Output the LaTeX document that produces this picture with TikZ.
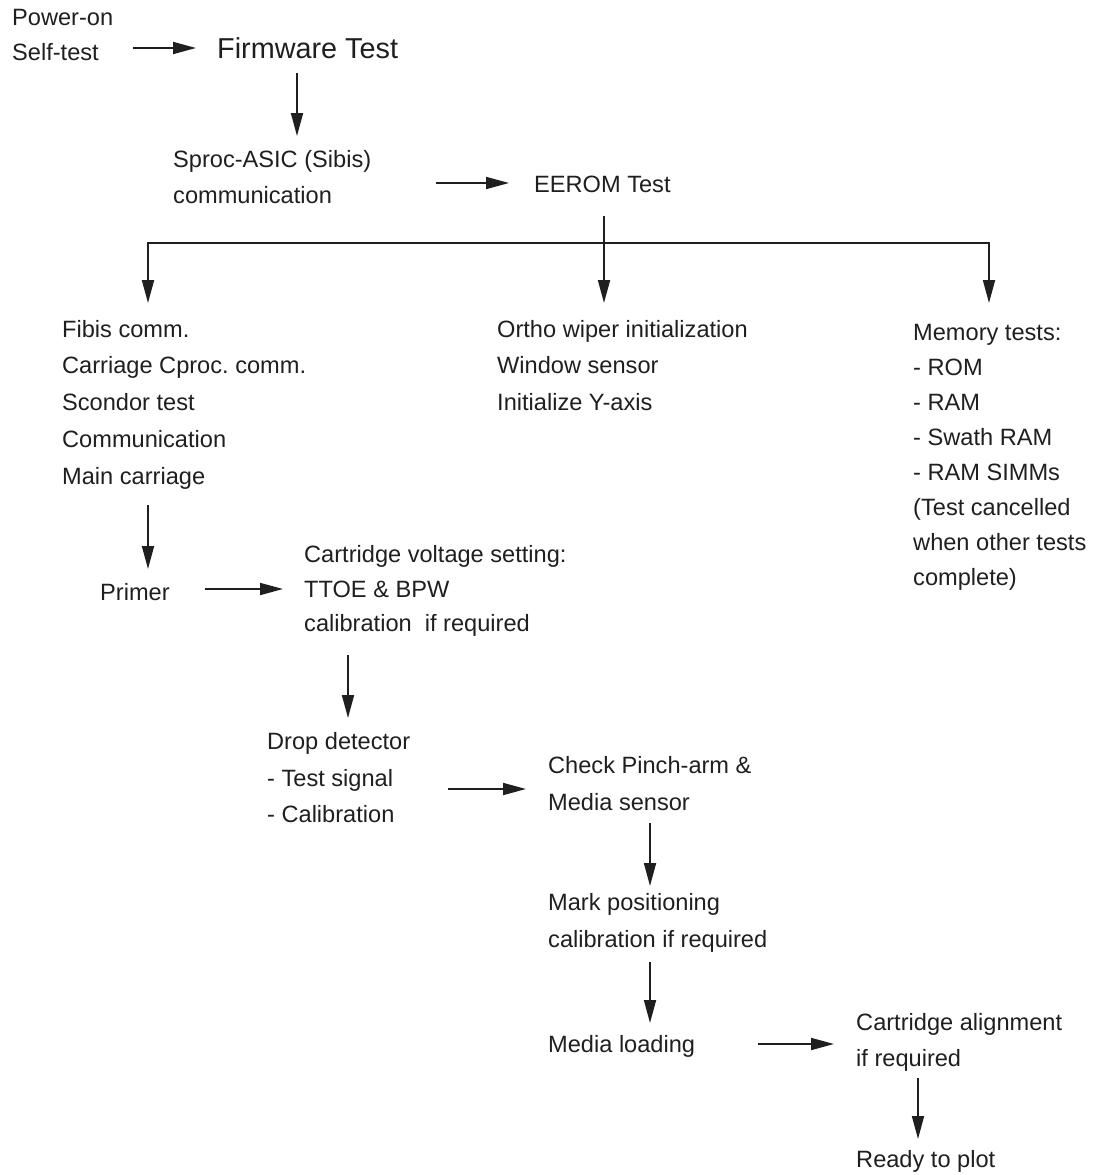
\documentclass[tikz,border=0pt]{standalone}
\usepackage{fontspec}
\setmainfont{Liberation Sans}
\usetikzlibrary{arrows.meta}
\definecolor{ink}{rgb}{0.12,0.12,0.12}
\frenchspacing
\begin{document}
\begin{tikzpicture}[x=1pt,y=-1pt,
  txt/.style={anchor=base west, inner sep=0pt, font=\fontsize{23.6}{28}\selectfont, text=ink},
  big/.style={txt, font=\fontsize{28.8}{34}\selectfont},
  arr/.style={-{Triangle[length=23pt,width=12pt]}, line width=1.8pt, draw=ink},
  ln/.style={line width=1.8pt, draw=ink}]
\useasboundingbox (0,0) rectangle (1094,1175);
% top
\node[txt] (po) at (12,25) {Power-on};
\node[txt] (st) at (12,60) {Self-test};
\node[big] (fw) at (217,58) {Firmware Test};
\node[txt] (spa) at (173,167) {Sproc-ASIC (Sibis)};
\node[txt] (spb) at (173,203) {communication};
\node[txt] (ee) at (534,192) {EEROM Test};
% left column
\node[txt] (la) at (62,337) {Fibis comm.};
\node[txt] (lb) at (62,373) {Carriage Cproc. comm.};
\node[txt] (lc) at (62,410) {Scondor test};
\node[txt] (ld) at (62,447) {Communication};
\node[txt] (le) at (62,484) {Main carriage};
% middle column
\node[txt] (ma) at (497,337) {Ortho wiper initialization};
\node[txt] (mb) at (497,373) {Window sensor};
\node[txt] (mc) at (497,410) {Initialize Y-axis};
% right column
\node[txt] (ra) at (913,340) {Memory tests:};
\node[txt] (rb) at (913,375) {- ROM};
\node[txt] (rc) at (913,410) {- RAM};
\node[txt] (rd) at (913,445) {- Swath RAM};
\node[txt] (re) at (913,480) {- RAM SIMMs};
\node[txt] (rf) at (913,515) {(Test cancelled};
\node[txt] (rg) at (913,550) {when other tests};
\node[txt] (rh) at (913,585) {complete)};
% primer row
\node[txt] (pr) at (100,600) {Primer};
\node[txt] (cva) at (304,562) {Cartridge voltage setting:};
\node[txt] (cvb) at (304,597) {TTOE \& BPW};
\node[txt] (cvc) at (304,631) {calibration\ \ if required};
% drop detector
\node[txt] (dda) at (267,749) {Drop detector};
\node[txt] (ddb) at (267,786) {- Test signal};
\node[txt] (ddc) at (267,822) {- Calibration};
\node[txt] (cpa) at (548,773) {Check Pinch-arm \&};
\node[txt] (cpb) at (548,810) {Media sensor};
\node[txt] (mpa) at (548,910) {Mark positioning};
\node[txt] (mpb) at (548,947) {calibration if required};
\node[txt] (ml) at (548,1052) {Media loading};
\node[txt] (caa) at (856,1030) {Cartridge alignment};
\node[txt] (cab) at (856,1066) {if required};
\node[txt] (rp) at (856,1167) {Ready to plot};
% arrow end points
\coordinate (a1s) at (133,48);  \coordinate (a1e) at (196,48);
\coordinate (a2s) at (297,73);  \coordinate (a2e) at (297,136);
\coordinate (a3s) at (436,183); \coordinate (a3e) at (509,183);
\coordinate (a4s) at (604,216); \coordinate (a4e) at (604,303);
\coordinate (bl) at (148,243);  \coordinate (br) at (989,243);
\coordinate (ble) at (148,303); \coordinate (bre) at (989,303);
\coordinate (a5s) at (148,505); \coordinate (a5e) at (148,569);
\coordinate (a6s) at (205,589); \coordinate (a6e) at (283,589);
\coordinate (a7s) at (348,655); \coordinate (a7e) at (348,718);
\coordinate (a8s) at (448,789); \coordinate (a8e) at (526,789);
\coordinate (a9s) at (650,823); \coordinate (a9e) at (650,886);
\coordinate (a10s) at (650,962); \coordinate (a10e) at (650,1023);
\coordinate (a11s) at (758,1044); \coordinate (a11e) at (834,1044);
\coordinate (a12s) at (918,1078); \coordinate (a12e) at (918,1139);
% connectors
\draw[arr] (a1s) -- (a1e);
\draw[arr] (a2s) -- (a2e);
\draw[arr] (a3s) -- (a3e);
\draw[arr] (a4s) -- (a4e);
\draw[ln] ([xshift=-0.9pt]bl) -- ([xshift=0.9pt]br);
\draw[arr] (bl) -- (ble);
\draw[arr] (br) -- (bre);
\draw[arr] (a5s) -- (a5e);
\draw[arr] (a6s) -- (a6e);
\draw[arr] (a7s) -- (a7e);
\draw[arr] (a8s) -- (a8e);
\draw[arr] (a9s) -- (a9e);
\draw[arr] (a10s) -- (a10e);
\draw[arr] (a11s) -- (a11e);
\draw[arr] (a12s) -- (a12e);
\end{tikzpicture}
\end{document}
